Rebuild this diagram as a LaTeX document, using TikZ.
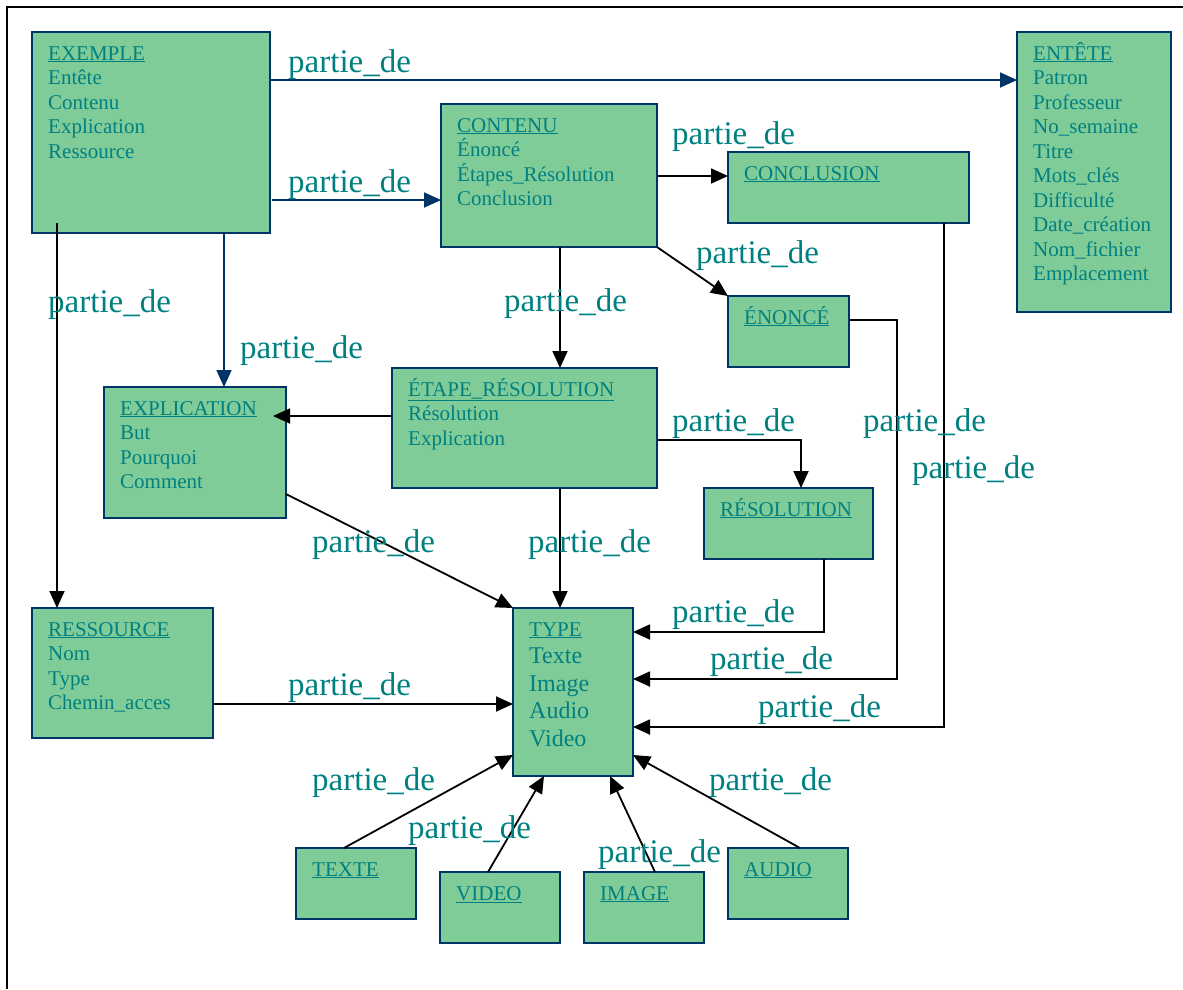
\documentclass[tikz,border=0pt]{standalone}
\usepackage{fontspec}
\setmainfont{Liberation Serif}
\usetikzlibrary{arrows.meta,calc}
\definecolor{boxfill}{HTML}{80CC99}
\definecolor{boxline}{HTML}{003366}
\definecolor{tealtext}{HTML}{008080}
\tikzset{
  ebox/.style={draw=boxline, line width=2pt, fill=boxfill, anchor=north west, inner sep=0pt, outer sep=0pt},
  etext/.style={anchor=base west, inner sep=0pt, text=tealtext, font=\fontsize{21}{24.5}\selectfont},
  lbl/.style={anchor=base west, inner sep=0pt, text=tealtext, font=\fontsize{33}{36}\selectfont},
  arr/.style={line width=1.8pt, draw=black, -{Triangle[length=17pt,width=15pt]}},
  narr/.style={line width=1.8pt, draw=boxline, -{Triangle[length=17pt,width=15pt,fill=boxline]}},
  frame/.style={line width=2pt, draw=black}
}
\newcommand\mkentity[6]{%
  \node[ebox, minimum width=#4pt, minimum height=#5pt] (#1) at (#2,#3) {};
  \node[etext] (#1-t) at ($(#1.north west)+(16,28)$) {\parbox[t]{#4pt}{\raggedright #6}};
}
\begin{document}
\begin{tikzpicture}[x=1pt,y=-1pt]
\useasboundingbox (0,0) rectangle (1183,989);
\coordinate (fr-a) at (7,989);
\coordinate (fr-b) at (7,7);
\coordinate (fr-c) at (1183,7);
\draw[frame] (fr-a) -- (fr-b) -- (fr-c);

\mkentity{ex}{32}{32}{238}{201}{\underline{EXEMPLE}\\Entête\\Contenu\\Explication\\Ressource}
\mkentity{ent}{1017}{32}{154}{280}{\underline{ENTÊTE}\\Patron\\Professeur\\No\_semaine\\Titre\\Mots\_clés\\Difficulté\\Date\_création\\Nom\_fichier\\Emplacement}
\mkentity{cont}{441}{104}{216}{143}{\underline{CONTENU}\\Énoncé\\Étapes\_Résolution\\Conclusion}
\mkentity{conc}{728}{152}{241}{71}{\underline{CONCLUSION}}
\mkentity{enon}{728}{296}{121}{71}{\underline{ÉNONCÉ}}
\mkentity{etape}{392}{368}{265}{120}{\underline{ÉTAPE\_RÉSOLUTION}\\Résolution\\Explication}
\mkentity{expl}{104}{387}{182}{131}{\underline{EXPLICATION}\\But\\Pourquoi\\Comment}
\mkentity{reso}{704}{488}{169}{71}{\underline{RÉSOLUTION}}
\mkentity{ress}{32}{608}{181}{130}{\underline{RESSOURCE}\\Nom\\Type\\Chemin\_acces}
\mkentity{type}{513}{608}{120}{168}{\fontsize{24}{27.5}\selectfont{\fontsize{21}{27.5}\selectfont\underline{TYPE}}\\Texte\\Image\\Audio\\Video}
\mkentity{texte}{296}{848}{120}{71}{\underline{TEXTE}}
\mkentity{video}{440}{872}{120}{71}{\underline{VIDEO}}
\mkentity{image}{584}{872}{120}{71}{\underline{IMAGE}}
\mkentity{audio}{728}{848}{120}{71}{\underline{AUDIO}}

% connectors
\draw[narr] (ex.east |- 0,80) -- (ent.west |- 0,80);
\draw[narr] ($(ex.east |- 0,200)+(2,0)$) -- (cont.west |- 0,200);
\draw[narr] (ex.south -| 224,0) -- (expl.north -| 224,0);
\draw[arr] ($(ex.south -| 57,0)+(0,-10)$) -- (ress.north -| 57,0);
\draw[arr] (cont.east |- 0,176) -- (conc.west |- 0,176);
\draw[arr] (cont.south east) -- (enon.north west);
\draw[arr] (cont.south -| 560,0) -- (etape.north -| 560,0);
\draw[arr] (etape.west |- 0,416) -- ($(expl.east |- 0,416)+(-13,0)$);
\draw[arr] (etape.east |- 0,440) -| (reso.north -| 801,0);
\draw[arr] (etape.south -| 560,0) -- (type.north -| 560,0);
\draw[arr] (expl.east |- 0,494) -- (type.north west);
\draw[arr] (reso.south -| 824,0) |- (type.east |- 0,632);
\draw[arr] (enon.east |- 0,320) -| (897,500) |- (type.east |- 0,679);
\draw[arr] (conc.south -| 944,0) |- (type.east |- 0,727);
\draw[arr] (ress.east |- 0,704) -- (type.west |- 0,704);
\draw[arr] (texte.north -| 344,0) -- (type.west |- 0,755);
\draw[arr] (video.north -| 488,0) -- (type.south -| 544,0);
\draw[arr] (image.north -| 655,0) -- (type.south -| 610,0);
\draw[arr] (audio.north -| 800,0) -- (type.east |- 0,755);

% labels
\node[lbl] (l1) at (288,72) {partie\_de};
\node[lbl] (l2) at (288,192) {partie\_de};
\node[lbl] (l3) at (48,312) {partie\_de};
\node[lbl] (l4) at (240,358) {partie\_de};
\node[lbl] (l5) at (672,144) {partie\_de};
\node[lbl] (l6) at (696,263) {partie\_de};
\node[lbl] (l7) at (504,311) {partie\_de};
\node[lbl] (l8) at (672,431) {partie\_de};
\node[lbl] (l9) at (863,431) {partie\_de};
\node[lbl] (l10) at (912,478) {partie\_de};
\node[lbl] (l11) at (312,552) {partie\_de};
\node[lbl] (l12) at (528,552) {partie\_de};
\node[lbl] (l13) at (672,622) {partie\_de};
\node[lbl] (l14) at (710,669) {partie\_de};
\node[lbl] (l15) at (758,717) {partie\_de};
\node[lbl] (l16) at (288,695) {partie\_de};
\node[lbl] (l17) at (312,790) {partie\_de};
\node[lbl] (l18) at (408,838) {partie\_de};
\node[lbl] (l19) at (598,862) {partie\_de};
\node[lbl] (l20) at (709,790) {partie\_de};
\end{tikzpicture}
\end{document}
